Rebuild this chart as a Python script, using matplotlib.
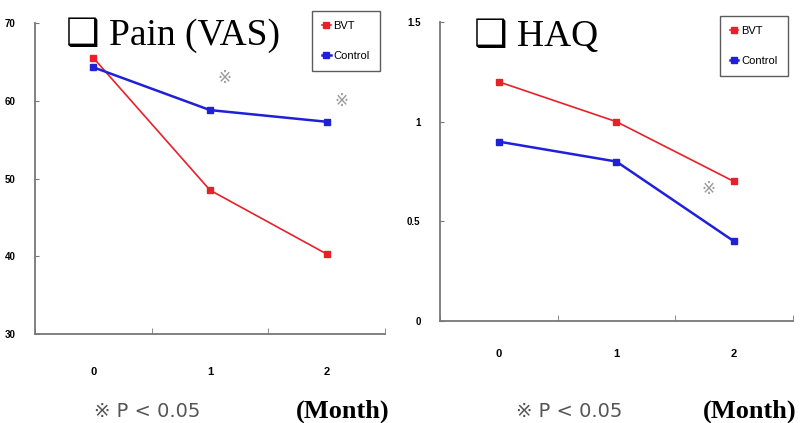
import matplotlib
matplotlib.use("Agg")
import matplotlib.pyplot as plt
import numpy as np

months = ["0", "1", "2"]
pain_bvt = [65.5, 48.5, 40.3]
pain_ctrl = [64.3, 58.8, 57.3]
haq_bvt = [1.2, 1.0, 0.7]
haq_ctrl = [0.9, 0.8, 0.4]
pain_sig_x = [1.12, 2.13]
pain_sig_y = [62.9, 60.0]
haq_sig_x = [1.78]
haq_sig_y = [0.66]

RED = "#e8202a"
BLUE = "#2020d8"
SERIF = ["Liberation Serif", "DejaVu Serif", "DejaVu Sans"]
NARROW = ["Liberation Sans Narrow", "Liberation Sans", "DejaVu Sans"]

fig = plt.figure(figsize=(8, 4.23), dpi=100)

def panel(rect, bvt, ctrl, ylim, yticks, yfmt, sig_x, sig_y, leg_anchor, xpad):
    ax = fig.add_axes(rect)
    x = np.arange(len(months))
    ax.plot(x, bvt, color=RED, lw=1.2, marker="s", ms=5, mec=RED, mfc=RED, label="BVT")
    ax.plot(x, ctrl, color=BLUE, lw=1.8, marker="s", ms=5, mec=BLUE, mfc=BLUE, label="Control")
    ax.set_xlim(-0.5, 2.5)
    ax.set_ylim(*ylim)
    ax.set_xticks(x)
    ax.set_xticklabels(months, fontfamily=NARROW, fontweight="bold", fontsize=8)
    ax.set_xticks(np.arange(-0.5, 2.6, 1.0), minor=True)
    ax.tick_params(axis="x", which="major", length=0, pad=xpad)
    ax.tick_params(axis="x", which="minor", length=4, direction="in", color="#777777")
    ax.set_yticks(yticks)
    ax.set_yticklabels([yfmt(v) for v in yticks], fontfamily=NARROW, fontweight="bold", fontsize=7)
    ax.tick_params(axis="y", length=3, direction="in", color="#777777", pad=14)
    for s in ["top", "right"]:
        ax.spines[s].set_visible(False)
    for s in ["left", "bottom"]:
        ax.spines[s].set_color("#777777")
        ax.spines[s].set_linewidth(1.3)
    for xx, yy in zip(sig_x, sig_y):
        ax.text(xx, yy, "※", color="#999999", fontsize=12, ha="center", va="center",
                family=["DejaVu Sans"])
    leg = ax.legend(loc="upper right", bbox_to_anchor=leg_anchor, frameon=True, fancybox=False,
                    edgecolor="#333333", handlelength=0.8, handletextpad=0.25,
                    borderpad=0.9, labelspacing=1.8, borderaxespad=0.0,
                    prop={"family": NARROW, "size": 8})
    leg.get_frame().set_linewidth(1.0)
    return ax

# left axes: x 35..385, y 23..334 ; right axes: x 440..793, y 22..321
ax1 = panel([0.044, 0.2104, 0.437, 0.7352], pain_bvt, pain_ctrl, (30, 70), [30, 40, 50, 60, 70],
            lambda v: f"{v:d}", pain_sig_x, pain_sig_y, (0.985, 1.04), 24)
ax2 = panel([0.55, 0.241, 0.441, 0.707], haq_bvt, haq_ctrl, (0, 1.5), [0, 0.5, 1, 1.5],
            lambda v: f"{v:g}", haq_sig_x, haq_sig_y, (0.985, 1.02), 20)

fig.text(0.082, 0.918, "❑ Pain (VAS)", fontsize=27, family=SERIF, ha="left", va="center")
fig.text(0.592, 0.912, "❑ HAQ", fontsize=27, family=SERIF, ha="left", va="center")

fig.text(0.118, 0.028, "※ P < 0.05", fontsize=14, color="#555555", family=["DejaVu Sans"], ha="left", va="center")
fig.text(0.487, 0.028, "(Month)", fontsize=19, fontweight="bold", family=SERIF, ha="right", va="center")
fig.text(0.645, 0.028, "※ P < 0.05", fontsize=14, color="#555555", family=["DejaVu Sans"], ha="left", va="center")
fig.text(0.995, 0.028, "(Month)", fontsize=19, fontweight="bold", family=SERIF, ha="right", va="center")

fig.savefig("out.png", dpi=100)
